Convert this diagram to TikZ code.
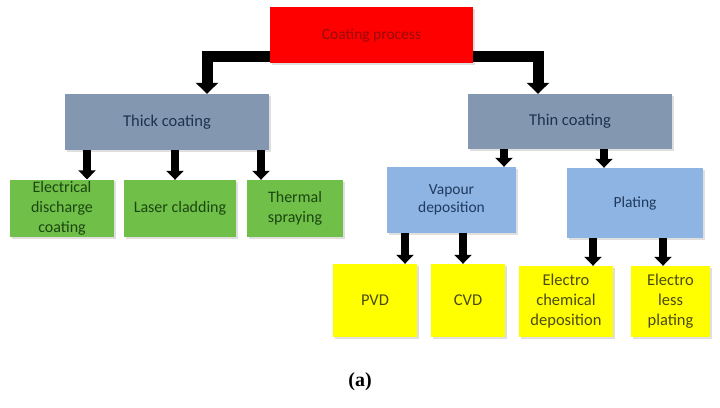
\documentclass[tikz,border=0pt]{standalone}
\usepackage{fontspec}
\setmainfont{Carlito}
\newfontfamily\capfont{Liberation Serif}
\usetikzlibrary{arrows.meta,shadows}
\definecolor{rootfill}{HTML}{FF0000}
\definecolor{roottext}{HTML}{9A0A0A}
\definecolor{midfill}{HTML}{8497B0}
\definecolor{midtext}{HTML}{1E3150}
\definecolor{subfill}{HTML}{8EB4E3}
\definecolor{subtext}{HTML}{1F3A5E}
\definecolor{greenfill}{HTML}{6FBF48}
\definecolor{greentext}{HTML}{1C4610}
\definecolor{yellowfill}{HTML}{FFFF00}
\definecolor{yellowtext}{HTML}{4A4A12}

\begin{document}
\begin{tikzpicture}[x=1pt,y=-1pt,box/.style={inner sep=2pt,align=center,drop shadow={shadow xshift=1.5pt,shadow yshift=-1.5pt,opacity=0.25}},
root/.style={box,fill=rootfill,text=roottext,font=\fontsize{15.5}{18}\selectfont},
mid/.style={box,fill=midfill,text=midtext,font=\fontsize{16.5}{19}\selectfont},
sub/.style={box,fill=subfill,text=subtext,font=\fontsize{15.5}{18}\selectfont},
leafg/.style={box,fill=greenfill,text=greentext,font=\fontsize{16}{20}\selectfont},
leafy/.style={box,fill=yellowfill,text=yellowtext,font=\fontsize{16.5}{20}\selectfont},
bigarr/.style={line width=11pt,-{Triangle[width=22pt,length=11pt]}},
arr/.style={line width=8pt,-{Triangle[width=17pt,length=9pt]}}]
\useasboundingbox (0,0) rectangle (720,407);
\node[root,minimum width=203pt,minimum height=56pt] (proc) at (371.5,35) {Coating process};
\node[mid,minimum width=204pt,minimum height=56pt] (thick) at (167,122) {Thick coating};
\node[mid,minimum width=204pt,minimum height=55pt] (thin) at (570,121.5) {Thin coating};
\node[leafg,minimum width=104pt,minimum height=57pt] (edc) at (62,208.5) {Electrical\\discharge\\coating};
\node[leafg,minimum width=112pt,minimum height=57pt] (laser) at (180,208.5) {Laser cladding};
\node[leafg,minimum width=96pt,minimum height=57pt] (thermal) at (295,208.5) {Thermal\\spraying};
\node[sub,minimum width=129pt,minimum height=66pt] (vapour) at (451.5,200) {Vapour\\deposition};
\node[sub,minimum width=136pt,minimum height=70pt] (plating) at (635,203) {Plating};
\node[leafy,minimum width=84pt,minimum height=73pt] (pvd) at (375,300.5) {PVD};
\node[leafy,minimum width=74pt,minimum height=73pt] (cvd) at (468,300.5) {CVD};
\node[leafy,minimum width=94pt,minimum height=71pt] (ecd) at (566,301.5) {Electro\\chemical\\deposition};
\node[leafy,minimum width=79pt,minimum height=71pt] (elp) at (670.5,301.5) {Electro\\less\\plating};
\node[font=\capfont\bfseries\fontsize{20}{22}\selectfont] (cap) at (360,382) {(a)};
\draw[bigarr] ([yshift=7pt]proc.south west) -| ([xshift=40pt]thick.north);
\draw[bigarr] ([yshift=7pt]proc.south east) -| ([xshift=-32pt]thin.north);
\draw[arr] ([xshift=25pt]edc.north |- thick.south) -- ([xshift=25pt]edc.north);
\draw[arr] ([xshift=-5pt]laser.north |- thick.south) -- ([xshift=-5pt]laser.north);
\draw[arr] ([xshift=-34pt]thermal.north |- thick.south) -- ([xshift=-34pt]thermal.north);
\draw[arr] ([xshift=52.5pt]vapour.north |- thin.south) -- ([xshift=52.5pt]vapour.north);
\draw[arr] ([xshift=-31pt]plating.north |- thin.south) -- ([xshift=-31pt]plating.north);
\draw[arr] ([xshift=30pt]pvd.north |- vapour.south) -- ([xshift=30pt]pvd.north);
\draw[arr] ([xshift=-5pt]cvd.north |- vapour.south) -- ([xshift=-5pt]cvd.north);
\draw[arr] ([xshift=27pt]ecd.north |- plating.south) -- ([xshift=27pt]ecd.north);
\draw[arr] ([xshift=-7.5pt]elp.north |- plating.south) -- ([xshift=-7.5pt]elp.north);
\end{tikzpicture}
\end{document}
